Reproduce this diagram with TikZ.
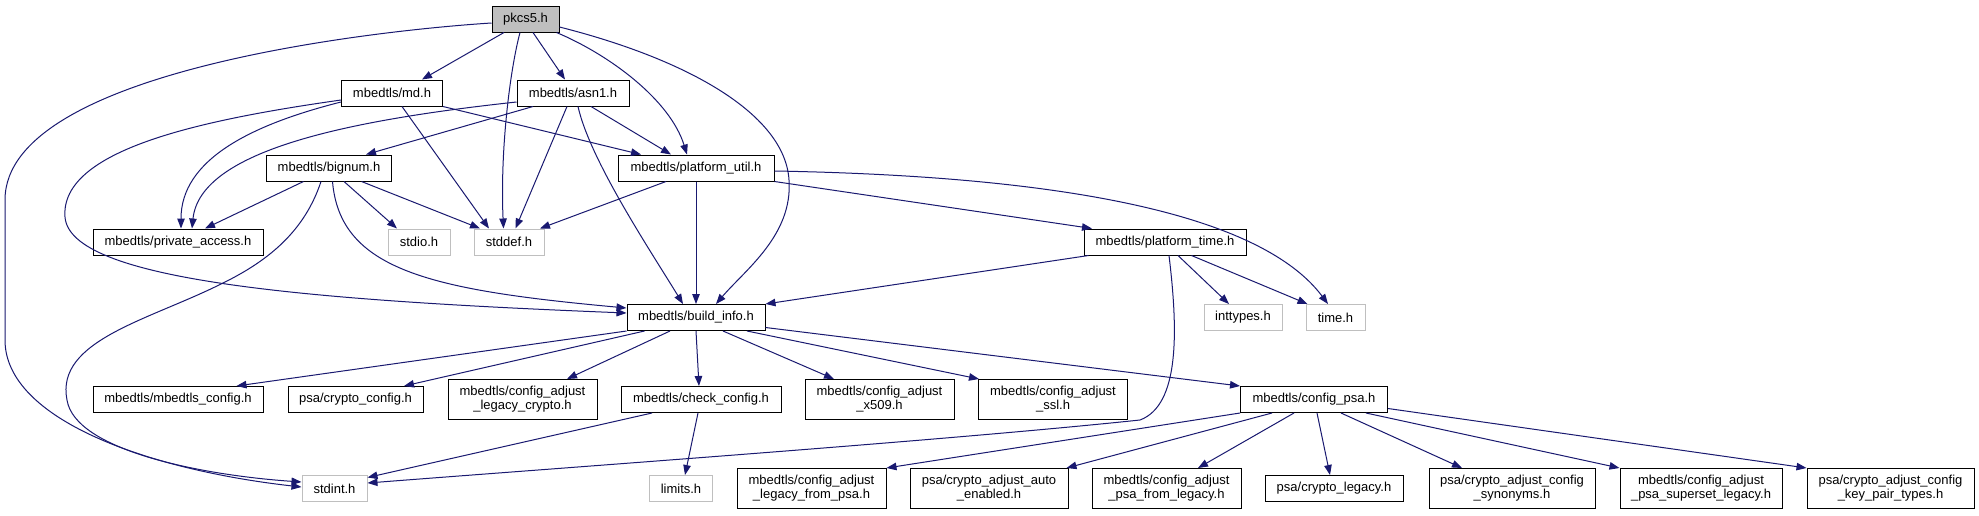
\documentclass[tikz,border=0pt]{standalone}
\usepackage{fontspec}
\setmainfont{Liberation Sans}
\usetikzlibrary{arrows.meta}
\definecolor{edgeblue}{HTML}{191970}
\definecolor{sysgray}{HTML}{BFBFBF}
\begin{document}
\begin{tikzpicture}[x=1pt,y=-1pt,
  nb/.style={draw=black, line width=1pt, fill=white, inner sep=0pt, minimum height=26pt, align=center, font=\fontsize{13}{14}\selectfont},
  nb2/.style={nb, minimum height=40pt},
  sb/.style={nb, draw=sysgray},
  rootb/.style={nb, fill=sysgray},
  edge/.style={draw=edgeblue, line width=1pt, -{Triangle[length=10pt,width=7.5pt]}, fill=none}
]
\useasboundingbox[fill=white] (0,0) rectangle (1979,515);

% row 0
\node[rootb, minimum width=67pt] (pkcs5) at (525.5,19) {pkcs5.h};
% row 1
\node[nb, minimum width=101pt] (md) at (392,93) {mbedtls/md.h};
\node[nb, minimum width=112pt] (asn1) at (573,93) {mbedtls/asn1.h};
% row 2
\node[nb, minimum width=125pt] (bignum) at (329,168) {mbedtls/bignum.h};
\node[nb, minimum width=156pt] (platutil) at (696,168) {mbedtls/platform\_util.h};
% row 3
\node[nb, minimum width=170pt] (privacc) at (178,242) {mbedtls/private\_access.h};
\node[sb, minimum width=62pt] (stdio) at (419,242) {stdio.h};
\node[sb, minimum width=70pt] (stddef) at (509,242) {stddef.h};
\node[nb, minimum width=162pt] (plattime) at (1165,242) {mbedtls/platform\_time.h};
% row 4
\node[nb, minimum width=138pt] (buildinfo) at (696,317.5) {mbedtls/build\_info.h};
\node[sb, minimum width=78pt] (inttypes) at (1243,317.5) {inttypes.h};
\node[sb, minimum width=59pt] (time) at (1335.5,317.5) {time.h};
% row 5
\node[nb, minimum width=170pt] (mbcfg) at (178,399.5) {mbedtls/mbedtls\_config.h};
\node[nb, minimum width=135pt] (cryptocfg) at (355.5,399.5) {psa/crypto\_config.h};
\node[nb2, minimum width=149pt] (legcrypto) at (522.5,399.5) {mbedtls/config\_adjust\\\_legacy\_crypto.h};
\node[nb, minimum width=160pt] (checkcfg) at (701,399.5) {mbedtls/check\_config.h};
\node[nb2, minimum width=149pt] (x509) at (879.5,399.5) {mbedtls/config\_adjust\\\_x509.h};
\node[nb2, minimum width=149pt] (ssl) at (1053,399.5) {mbedtls/config\_adjust\\\_ssl.h};
\node[nb, minimum width=147pt] (cfgpsa) at (1314,399.5) {mbedtls/config\_psa.h};
% row 6
\node[sb, minimum width=65pt] (stdint) at (334.5,488.5) {stdint.h};
\node[sb, minimum width=63pt] (limits) at (681,488.5) {limits.h};
\node[nb2, minimum width=149pt] (legfrompsa) at (811.5,488.5) {mbedtls/config\_adjust\\\_legacy\_from\_psa.h};
\node[nb2, minimum width=158pt] (autoen) at (989,488.5) {psa/crypto\_adjust\_auto\\\_enabled.h};
\node[nb2, minimum width=149pt] (psafromleg) at (1166.5,488.5) {mbedtls/config\_adjust\\\_psa\_from\_legacy.h};
\node[nb, minimum width=138pt] (cryptoleg) at (1334,488.5) {psa/crypto\_legacy.h};
\node[nb2, minimum width=166pt] (synonyms) at (1512,488.5) {psa/crypto\_adjust\_config\\\_synonyms.h};
\node[nb2, minimum width=162pt] (superset) at (1701,488.5) {mbedtls/config\_adjust\\\_psa\_superset\_legacy.h};
\node[nb2, minimum width=167pt] (keypair) at (1890.5,488.5) {psa/crypto\_adjust\_config\\\_key\_pair\_types.h};

% pkcs5 edges
\draw[edge] ([xshift=-21.5pt]pkcs5.south) -- ([xshift=30pt]md.north);
\draw[edge] ([xshift=7.5pt]pkcs5.south) -- ([xshift=-8pt]asn1.north);
\draw[edge] ([xshift=-5.5pt]pkcs5.south) .. controls (510,70) and (500,150) .. ([xshift=-5.5pt]stddef.north);
\draw[edge] ([xshift=-3pt]pkcs5.south east) .. controls (610,55) and (670,100) .. ([xshift=-9pt]platutil.north);
\draw[edge] ([yshift=-8pt]pkcs5.east) .. controls (690,60) and (785,115) .. (789,180)
  .. controls (793,235) and (745,270) .. ([xshift=20pt]buildinfo.north);
\draw[edge] ([yshift=-4pt]pkcs5.west) .. controls (380,30) and (5,70) .. (5,200)
  -- (5,340) .. controls (5,420) and (150,470) .. ([yshift=1.5pt]stdint.west);

% md edges
\draw[edge] ([yshift=-9pt]md.west) .. controls (250,125) and (181,160) .. ([xshift=3pt]privacc.north);
\draw[edge] ([yshift=-7pt]md.west) .. controls (200,120) and (60,150) .. (65,217)
  .. controls (70,280) and (300,300) .. ([yshift=4.5pt]buildinfo.west);
\draw[edge] ([xshift=10pt]md.south) -- ([xshift=-20pt]stddef.north);
\draw[edge] (md.south east) -- ([xshift=-55pt]platutil.north);

% asn1 edges
\draw[edge] ([yshift=-9pt]asn1.west) .. controls (350,120) and (200,150) .. ([xshift=14pt]privacc.north);
\draw[edge] ([xshift=-40pt]asn1.south) -- ([xshift=37pt]bignum.north);
\draw[edge] ([xshift=18pt]asn1.south) -- ([xshift=-25pt]platutil.north);
\draw[edge] ([xshift=-6pt]asn1.south) -- ([xshift=6.5pt]stddef.north);
\draw[edge] ([xshift=5pt]asn1.south) .. controls (590,160) and (650,250) .. ([xshift=-13pt]buildinfo.north);

% bignum edges
\draw[edge] ([xshift=-25.5pt]bignum.south) -- ([xshift=27pt]privacc.north);
\draw[edge] ([xshift=15pt]bignum.south) -- ([xshift=-22pt]stdio.north);
\draw[edge] ([xshift=32.5pt]bignum.south) -- ([xshift=-29pt]stddef.north);
\draw[edge] ([xshift=3.5pt]bignum.south) .. controls (340,270) and (430,290) .. ([yshift=9.5pt]buildinfo.west);
\draw[edge] ([xshift=-8pt]bignum.south) .. controls (305,230) and (270,260) .. (223,283)
  .. controls (150,320) and (55,340) .. (67,400)
  .. controls (75,450) and (200,475) .. ([yshift=6.5pt]stdint.west);

% platform_util edges
\draw[edge] ([xshift=-30pt]platutil.south) -- ([xshift=31pt]stddef.north);
\draw[edge] (platutil.south) -- (buildinfo.north);
\draw[edge] (platutil.south east) -- ([xshift=-73pt]plattime.north);
\draw[edge] ([yshift=-3pt]platutil.east) .. controls (1000,175) and (1250,200) .. ([xshift=-7.5pt]time.north);

% platform_time edges
\draw[edge] ([xshift=5pt]plattime.south west) -- (buildinfo.north east);
\draw[edge] ([xshift=13pt]plattime.south) -- ([xshift=-14pt]inttypes.north);
\draw[edge] ([xshift=26.5pt]plattime.south) -- ([xshift=2pt]time.north west);
\draw[edge] ([xshift=4pt]plattime.south) .. controls (1178,330) and (1180,405) .. (1140,420)
  .. controls (950,440) and (600,465) .. ([yshift=5.5pt]stdint.east);

% build_info edges
\draw[edge] (buildinfo.south west) -- ([xshift=58.5pt]mbcfg.north);
\draw[edge] ([xshift=18pt]buildinfo.south west) -- ([xshift=48.5pt]cryptocfg.north);
\draw[edge] ([xshift=-26pt]buildinfo.south) -- ([xshift=44.5pt]legcrypto.north);
\draw[edge] (buildinfo.south) -- ([xshift=-2pt]checkcfg.north);
\draw[edge] ([xshift=27pt]buildinfo.south) -- ([xshift=-45.5pt]x509.north);
\draw[edge] ([xshift=51pt]buildinfo.south) -- ([xshift=1pt]ssl.north west);
\draw[edge] ([yshift=-10pt]buildinfo.east) -- (cfgpsa.north west);

% check_config edges
\draw[edge] ([xshift=31.5pt]checkcfg.south west) -- ([yshift=11pt]stdint.east);
\draw[edge] ([xshift=-3pt]checkcfg.south) -- ([xshift=4pt]limits.north);

% config_psa edges
\draw[edge] (cfgpsa.south west) -- (legfrompsa.north east);
\draw[edge] ([xshift=-42pt]cfgpsa.south) -- ([xshift=-2pt]autoen.north east);
\draw[edge] ([xshift=-20pt]cfgpsa.south) -- ([xshift=31.5pt]psafromleg.north);
\draw[edge] ([xshift=3pt]cfgpsa.south) -- ([xshift=-4pt]cryptoleg.north);
\draw[edge] ([xshift=27pt]cfgpsa.south) -- ([xshift=-50pt]synonyms.north);
\draw[edge] ([xshift=52pt]cfgpsa.south) -- (superset.north west);
\draw[edge] ([yshift=-9pt]cfgpsa.east) -- (keypair.north west);
\end{tikzpicture}
\end{document}
